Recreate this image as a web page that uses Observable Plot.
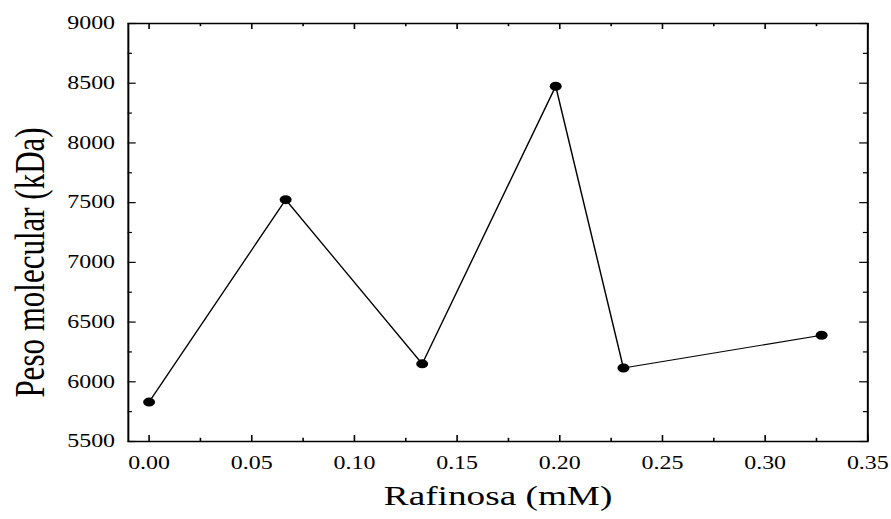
<!DOCTYPE html>
<html>
<head>
<meta charset="utf-8">
<script src="https://cdn.jsdelivr.net/npm/d3@7"></script>
<script src="https://cdn.jsdelivr.net/npm/@observablehq/plot@0.6"></script>
<style>
  body { margin: 0; background: white; }
  #chart { width: 670px; transform: scaleX(1.33); transform-origin: 0 0; }
  #chart svg, #chart svg text { font-family: "Liberation Serif", Tinos, "Times New Roman", Times, serif !important; }
</style>
</head>
<body>
<div id="chart"></div>
<script>
// Data
const rafinosa = [0.000, 0.0665, 0.1330, 0.1980, 0.2310, 0.3275];
const pesoMolecular = [5830, 7525, 6150, 8475, 6115, 6390];

const xMajorTicks = [0, 0.05, 0.10, 0.15, 0.20, 0.25, 0.30, 0.35];
const xMinorTicks = [0.025, 0.075, 0.125, 0.175, 0.225, 0.275, 0.325];
const yMajorTicks = [5500, 6000, 6500, 7000, 7500, 8000, 8500, 9000];
const yMinorTicks = [5750, 6250, 6750, 7250, 7750, 8250, 8750];

const xLabel = "Rafinosa (mM)";
const yLabel = "Peso molecular (kDa)";

const data = rafinosa.map((x, i) => ({x, y: pesoMolecular[i]}));

const W = 670, H = 519, mt = 23, mb = 78, ml = 96, mr = 18;
const fh = H - mt - mb, fw = W - ml - mr;
const major = 6, minor = 3.2;

const chart = Plot.plot({
  width: W,
  height: H,
  marginTop: mt,
  marginBottom: mb,
  marginLeft: ml,
  marginRight: mr,
  style: {background: "white", color: "black"},
  x: {domain: [-0.0101, 0.35], label: null},
  y: {domain: [5500, 9000], label: null},
  marks: [
    Plot.tickX(xMajorTicks, {x: d => d, insetTop: fh - major, stroke: "black", strokeWidth: 1.2}),
    Plot.tickX(xMajorTicks, {x: d => d, insetBottom: fh - major, stroke: "black", strokeWidth: 1.2}),
    Plot.tickX(xMinorTicks, {x: d => d, insetTop: fh - minor, stroke: "black", strokeWidth: 1.2}),
    Plot.tickX(xMinorTicks, {x: d => d, insetBottom: fh - minor, stroke: "black", strokeWidth: 1.2}),
    Plot.tickY(yMajorTicks, {y: d => d, insetRight: fw - major, stroke: "black", strokeWidth: 1.2}),
    Plot.tickY(yMajorTicks, {y: d => d, insetLeft: fw - major, stroke: "black", strokeWidth: 1.2}),
    Plot.tickY(yMinorTicks, {y: d => d, insetRight: fw - minor, stroke: "black", strokeWidth: 1.2}),
    Plot.tickY(yMinorTicks, {y: d => d, insetLeft: fw - minor, stroke: "black", strokeWidth: 1.2}),
    Plot.frame({stroke: "black", strokeWidth: 1.5}),
    Plot.axisX({ticks: xMajorTicks, tickSize: 0, tickPadding: 15, tickFormat: d3.format(".2f"), fontSize: 18, label: null}),
    Plot.axisY({ticks: yMajorTicks, tickSize: 0, tickPadding: 10, tickFormat: d => String(d), fontSize: 18, label: null}),
    Plot.line(data, {x: "x", y: "y", stroke: "black", strokeWidth: 1.1}),
    Plot.dot(data, {x: "x", y: "y", r: 4.5, fill: "black", stroke: "none"}),
    Plot.text([xLabel], {frameAnchor: "bottom", dy: 63, fontSize: 28, text: d => d, fill: "black"}),
    Plot.text([yLabel], {frameAnchor: "left", textAnchor: "middle", dx: -73, dy: 30, rotate: -90, fontSize: 31, text: d => d, fill: "black"})
  ]
});
document.getElementById("chart").appendChild(chart);
</script>
</body>
</html>
